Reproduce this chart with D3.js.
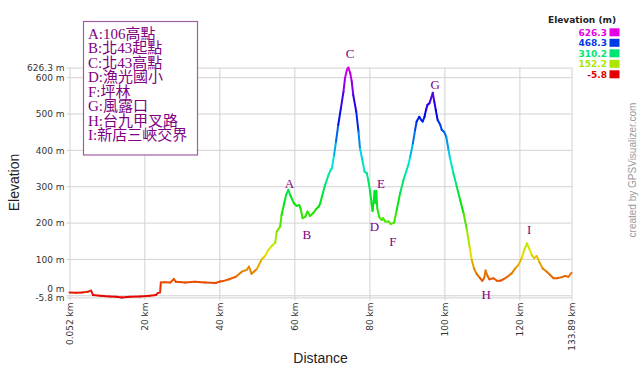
<!DOCTYPE html>
<html><head><meta charset="utf-8">
<script src="https://cdn.jsdelivr.net/npm/d3@7"></script>
<style>html,body{margin:0;padding:0;background:#fff;}svg{display:block;}</style>
</head><body><svg id="c" width="640" height="366"></svg>
<script>
const distKm = [0.052,1.8,3.6,5.0,5.8,6.3,8.2,10.8,12.5,14.0,16.2,18.8,21.5,23.1,23.6,24.2,24.4,25.5,26.9,27.9,28.4,30.9,33.5,36.2,39.1,40.2,41.0,42.6,44.4,46.0,47.3,47.9,48.6,50.0,51.3,52.2,53.1,54.0,54.9,55.3,56.2,56.6,57.3,57.8,58.4,59.0,59.9,60.6,61.3,61.7,62.2,62.9,63.5,64.2,65.1,65.8,66.5,66.9,67.6,68.2,69.1,69.7,70.0,70.6,71.1,71.7,72.4,73.1,73.5,74.0,74.4,74.9,75.3,75.7,76.5,77.1,77.5,78.2,78.7,79.3,79.7,80.2,80.6,80.85,81.2,81.4,81.6,81.85,82.1,82.6,83.3,83.7,84.2,85.1,85.7,86.6,87.3,88.2,89.1,89.5,90.4,90.9,91.6,92.2,92.6,93.3,93.7,94.2,94.7,95.1,95.5,96.0,96.6,96.9,97.3,97.7,98.2,98.9,99.3,99.9,100.5,101.1,101.5,102.0,102.4,103.3,104.2,105.1,106.0,106.7,107.3,107.9,108.6,109.5,110.1,110.6,111.0,111.5,112.0,113.1,114.0,114.9,115.7,116.8,118.0,118.9,119.7,120.6,121.3,122.0,122.6,123.3,123.9,124.6,125.3,126.2,127.3,128.2,129.1,130.0,131.3,132.2,133.1,133.89];
const elevM = [8,7,8,10,13,1,-1,-3,-4,-5.8,-4,-3,-1,1,6,8,35,36,35,45,37,35,37,35,34,38,39,44,51,65,70,79,59,72,99,108,125,136,145,175,189,221,253,276,290,273,253,246,248,237,212,216,230,218,227,237,244,253,281,303,331,345,349,386,423,469,514,560,597,620,626.3,611,588,551,505,450,404,368,340,336,317,285,253,232,265,287,254,287,240,216,207,212,203,203,196,200,235,281,317,331,359,381,418,455,478,491,484,478,491,510,524,528,546,557,533,510,482,469,455,450,436,400,377,354,336,299,262,226,180,134,97,74,59,47,40,47,68,53,44,47,40,40,44,51,61,74,83,102,125,143,129,111,102,108,92,74,65,56,47,47,50,53,51,62];
const xTicks = [0.052,20,40,60,80,100,120,133.89];
const yTicks = [-5.8,0,100,200,300,400,500,600,626.3];
const legendValues = [626.3,468.3,310.2,152.2,-5.8];
const wpNames = ["A","B","C","D","E","F","G","H","I"];
const wpKm = [58.67,63.3,74.85,81.33,83.12,86.24,97.52,111.12,122.59];
const wpLabelM = [308,166,666,189,308,147,581,3,182];
const noteLines = ["A:106高點","B:北43起點","C:北43高點","D:漁光國小","F:坪林","G:風露口","H:台九甲叉路","I:新店三峽交界"];

const svg = d3.select("#c");
const X0 = 69.5, X1 = 571.5, Y0 = 297.4, Y1 = 67.6;
const x = d3.scaleLinear().domain([xTicks[0], xTicks[xTicks.length-1]]).range([X0, X1]);
const y = d3.scaleLinear().domain([yTicks[0], yTicks[yTicks.length-1]]).range([Y0, Y1]);
const eMin = yTicks[0], eMax = yTicks[yTicks.length-1];
const color = v => d3.hsl(300 * (v - eMin) / (eMax - eMin), 1, 0.45).toString();
const sans = "'DejaVu Sans', Verdana, sans-serif";

// bottom axis / vertical grid
const gx = svg.append("g").attr("transform", `translate(0,${Y0 + 3})`)
  .call(d3.axisBottom(x).tickValues(xTicks).tickSizeInner(-(Y0 - Y1 + 3)).tickSizeOuter(0)
    .tickFormat(d => d + " km"));
gx.select(".domain").remove();
gx.selectAll(".tick line").attr("stroke", "#d2d2d2");
gx.selectAll(".tick text").attr("transform", "rotate(-90)").attr("text-anchor", "end")
  .attr("x", -2).attr("y", 0).attr("dy", "0.35em")
  .attr("font-family", sans).attr("font-size", 9).attr("fill", "#333");

// left axis / horizontal grid
const gy = svg.append("g").attr("transform", `translate(${X0 - 3},0)`)
  .call(d3.axisLeft(y).tickValues(yTicks).tickSizeInner(-(X1 - X0 + 3)).tickSizeOuter(0).tickPadding(2)
    .tickFormat(d => d + " m"));
gy.select(".domain").remove();
gy.selectAll(".tick line").attr("stroke", "#d2d2d2");
gy.selectAll(".tick text").attr("font-family", sans).attr("font-size", 9).attr("fill", "#333")
  .attr("dy", d => (d === 0 && Math.abs(y(0) - y(eMin)) < 9) ? (-(9 - Math.abs(y(0) - y(eMin))) + 3.2) : 3.2);

// profile line
const pts = distKm.map((d, i) => [d, elevM[i]]);
const segs = d3.pairs(pts);
svg.append("g").selectAll("line").data(segs).join("line")
  .attr("x1", d => x(d[0][0])).attr("y1", d => y(d[0][1]))
  .attr("x2", d => x(d[1][0])).attr("y2", d => y(d[1][1]))
  .attr("stroke", d => color((d[0][1] + d[1][1]) / 2))
  .attr("stroke-width", 2).attr("stroke-linecap", "round");

// waypoint labels
svg.append("g").selectAll("text").data(wpNames).join("text")
  .attr("x", (d, i) => x(wpKm[i])).attr("y", (d, i) => y(wpLabelM[i])).attr("dy", "0.35em")
  .attr("text-anchor", "middle").attr("font-family", "'Liberation Serif', 'Times New Roman', serif")
  .attr("font-size", 13).attr("fill", "#800080").text(d => d);

// note box
const nb = svg.append("g");
nb.append("rect").attr("x", 83.5).attr("y", 21.5).attr("width", 114).attr("height", 133.5)
  .attr("fill", "#fff").attr("stroke", "#a35ca3").attr("stroke-width", 1.2);
nb.selectAll("text").data(noteLines).join("text")
  .attr("x", 88).attr("y", (d, i) => 38.5 + i * 14.5)
  .attr("font-family", "'Liberation Serif', 'Noto Sans CJK TC', serif").attr("font-size", 15)
  .attr("fill", "#800080").text(d => d);

// color legend
const lg = svg.append("g");
lg.append("text").attr("x", 582).attr("y", 23).attr("text-anchor", "middle")
  .attr("font-family", sans).attr("font-weight", "bold").attr("font-size", 9).attr("fill", "#222")
  .text("Elevation (m)");
lg.selectAll("rect").data(legendValues).join("rect")
  .attr("x", 609.5).attr("y", (d, i) => 28.3 + i * 10.5).attr("width", 10).attr("height", 8)
  .attr("fill", d => color(d));
lg.selectAll("text.v").data(legendValues).join("text").attr("class", "v")
  .attr("x", 607).attr("y", (d, i) => 35.8 + i * 10.5).attr("text-anchor", "end")
  .attr("font-family", sans).attr("font-weight", "bold").attr("font-size", 9)
  .attr("fill", d => color(d)).text(d => d);

// titles
svg.append("text").attr("x", (X0 + X1) / 2).attr("y", 363).attr("text-anchor", "middle")
  .attr("font-family", "'Liberation Sans', Arial, sans-serif").attr("font-size", 14).attr("fill", "#222").text("Distance");
svg.append("text").attr("transform", `translate(19,${(Y0 + Y1) / 2}) rotate(-90)`).attr("text-anchor", "middle")
  .attr("font-family", "'Liberation Sans', Arial, sans-serif").attr("font-size", 14).attr("fill", "#222").text("Elevation");
svg.append("text").attr("transform", "translate(636,170) rotate(-90)").attr("text-anchor", "middle")
  .attr("font-family", "'Liberation Sans', Arial, sans-serif").attr("font-size", 10).attr("fill", "#999")
  .text("created by GPSVisualizer.com");
</script></body></html>
